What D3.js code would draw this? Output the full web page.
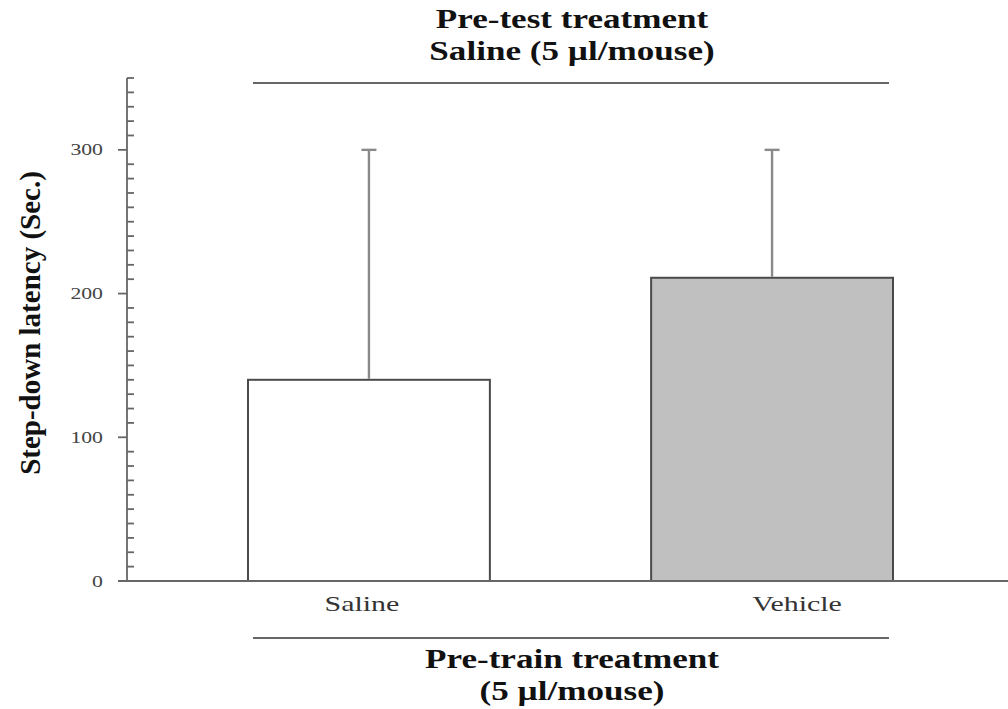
<!DOCTYPE html>
<html>
<head>
<meta charset="utf-8">
<script src="https://cdn.jsdelivr.net/npm/d3@7"></script>
<style>
  body { margin: 0; background: #fff; }
  text { font-family: "Liberation Serif", "DejaVu Serif", serif; }
</style>
</head>
<body>
<svg width="1008" height="709"></svg>
<script>
// data
const groups = ["Saline", "Vehicle"];
const means = [140, 211];
const errTop = [300, 300];
const fills = ["#ffffff", "#c0c0c0"];
const majorTicks = [0, 100, 200, 300];
const labelNudge = [-7, 25];

const svg = d3.select("svg");

// the original figure is stretched sideways, so horizontal text is too
const sx = 1.36;

// plot box
const x0 = 127, x1 = 1008;
const yTop = 78, yBase = 581;

const y = d3.scaleLinear().domain([0, 350]).range([yBase, yTop]);
const x = d3.scaleBand().domain(groups).range([248, 893]).paddingInner(0.4).paddingOuter(0);

// bars
svg.append("g")
    .selectAll("rect")
    .data(groups)
    .join("rect")
    .attr("x", d => x(d))
    .attr("y", (d, i) => y(means[i]))
    .attr("width", x.bandwidth())
    .attr("height", (d, i) => yBase - y(means[i]))
    .attr("fill", (d, i) => fills[i])
    .attr("stroke", "#4a4a4a")
    .attr("stroke-width", 2);

// error bars (upper only)
const err = svg.append("g").attr("stroke", "#8a8a8a").attr("stroke-width", 2.4);
groups.forEach((g, i) => {
    const cx = x(g) + x.bandwidth() / 2;
    err.append("line")
        .attr("x1", cx).attr("x2", cx)
        .attr("y1", y(means[i]) - 1).attr("y2", y(errTop[i]));
    err.append("line")
        .attr("x1", cx - 7.5).attr("x2", cx + 7.5)
        .attr("y1", y(errTop[i])).attr("y2", y(errTop[i]));
});

// y axis: major ticks outside, minor inside
const yAxis = svg.append("g").attr("stroke", "#666").attr("stroke-width", 1.8);
yAxis.append("line")
    .attr("x1", x0).attr("x2", x0)
    .attr("y1", y(350)).attr("y2", yBase);
d3.range(10, 351, 10).filter(v => v % 100 !== 0).forEach(v => {
    yAxis.append("line")
        .attr("x1", x0).attr("x2", x0 + 7)
        .attr("y1", y(v)).attr("y2", y(v));
});
majorTicks.forEach(v => {
    yAxis.append("line")
        .attr("x1", x0 - 9).attr("x2", x0)
        .attr("y1", y(v)).attr("y2", y(v));
});

svg.append("g")
    .selectAll("text")
    .data(majorTicks)
    .join("text")
    .attr("transform", d => `translate(103,${y(d)}) scale(${sx},1)`)
    .attr("dy", "0.35em")
    .attr("text-anchor", "end")
    .attr("font-size", 16)
    .attr("fill", "#444")
    .text(d => d);

// baseline
svg.append("line")
    .attr("x1", x0 - 9).attr("x2", x1)
    .attr("y1", yBase).attr("y2", yBase)
    .attr("stroke", "#666").attr("stroke-width", 2);

// category labels
svg.append("g")
    .selectAll("text")
    .data(groups)
    .join("text")
    .attr("transform", (d, i) => `translate(${x(d) + x.bandwidth() / 2 + labelNudge[i]},611) scale(${sx},1)`)
    .attr("text-anchor", "middle")
    .attr("font-size", 22)
    .attr("fill", "#333")
    .text(d => d);

// y label
svg.append("text")
    .attr("transform", "translate(40,323) rotate(-90)")
    .attr("text-anchor", "middle")
    .attr("font-size", 29)
    .attr("font-weight", "bold")
    .attr("fill", "#111")
    .text("Step-down latency (Sec.)");

// header and footer group lines
svg.append("line")
    .attr("x1", 253).attr("x2", 889)
    .attr("y1", 83).attr("y2", 83)
    .attr("stroke", "#666").attr("stroke-width", 1.8);
svg.append("line")
    .attr("x1", 253).attr("x2", 889)
    .attr("y1", 638).attr("y2", 638)
    .attr("stroke", "#666").attr("stroke-width", 1.8);

const titles = [
    { t: "Pre-test treatment", y: 28 },
    { t: "Saline (5 \u00b5l/mouse)", y: 60 },
    { t: "Pre-train treatment", y: 668 },
    { t: "(5 \u00b5l/mouse)", y: 700 }
];
svg.append("g")
    .selectAll("text")
    .data(titles)
    .join("text")
    .attr("transform", d => `translate(572,${d.y}) scale(1.3,1)`)
    .attr("text-anchor", "middle")
    .attr("font-size", 27)
    .attr("font-weight", "bold")
    .attr("fill", "#111")
    .text(d => d.t);
</script>
</body>
</html>
